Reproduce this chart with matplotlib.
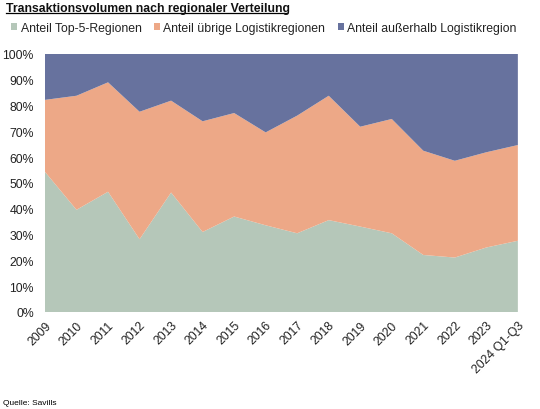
import matplotlib
matplotlib.use("Agg")
import matplotlib.pyplot as plt
from matplotlib.patches import Patch
from matplotlib.ticker import MultipleLocator, FuncFormatter
import numpy as np

plt.rcParams['font.family'] = ['Liberation Sans', 'DejaVu Sans']

categories = ["2009", "2010", "2011", "2012", "2013", "2014", "2015", "2016",
              "2017", "2018", "2019", "2020", "2021", "2022", "2023", "2024 Q1-Q3"]
top5 = [54.3, 39.6, 46.6, 28.2, 46.3, 31.0, 37.0, 33.6,
        30.5, 35.6, 33.1, 30.5, 22.1, 21.1, 25.0, 27.6]
uebrige_cum = [82.2, 83.8, 89.0, 77.6, 81.9, 73.9, 77.1, 69.6,
               76.1, 83.8, 71.8, 74.8, 62.5, 58.6, 61.9, 64.7]
uebrige = [c - t for c, t in zip(uebrige_cum, top5)]
ausserhalb = [100 - c for c in uebrige_cum]

series_names = ["Anteil Top-5-Regionen", "Anteil übrige Logistikregionen",
                "Anteil außerhalb Logistikregion"]
colors = ["#b5c7b9", "#eda887", "#67729e"]

fig = plt.figure(figsize=(5.4, 4.1), dpi=100)
ax = fig.add_axes([0.0833, 0.2366, 0.8757, 0.6294])

x = np.arange(len(categories))
ax.stackplot(x, top5, uebrige, ausserhalb, colors=colors, linewidth=0)

ax.set_xlim(0, len(categories) - 1)
ax.set_ylim(0, 100)
ax.yaxis.set_major_locator(MultipleLocator(10))
ax.yaxis.set_major_formatter(FuncFormatter(lambda v, p: f"{int(round(v))}%"))
ax.set_xticks(x)
ax.set_xticklabels(categories, rotation=45, ha="right", rotation_mode="anchor")
ax.tick_params(axis="both", length=0, labelsize=8.8, colors="#222222")
ax.tick_params(axis="x", pad=5)
ax.tick_params(axis="y", pad=8)
for s in ax.spines.values():
    s.set_visible(False)

fig.text(0.012, 0.993, "Transaktionsvolumen nach regionaler Verteilung",
         fontsize=8.8, fontweight="bold", va="top", ha="left", color="#111111")
# underline
fig.add_artist(plt.Line2D([0.012, 0.532], [0.966, 0.966], color="black", lw=0.9,
                          transform=fig.transFigure))

handles = [Patch(facecolor=c, edgecolor="none") for c in colors]
fig.legend(handles, series_names, loc="center left", bbox_to_anchor=(0.02, 0.93),
           ncol=3, frameon=False, fontsize=8.8, handlelength=0.5, handleheight=0.5,
           handletextpad=0.3, columnspacing=1.0, labelcolor="#222222",
           borderaxespad=0, borderpad=0)

fig.text(0.006, 0.017, "Quelle: Savills", fontsize=6, va="center", ha="left")

fig.savefig("out.png", dpi=100)
